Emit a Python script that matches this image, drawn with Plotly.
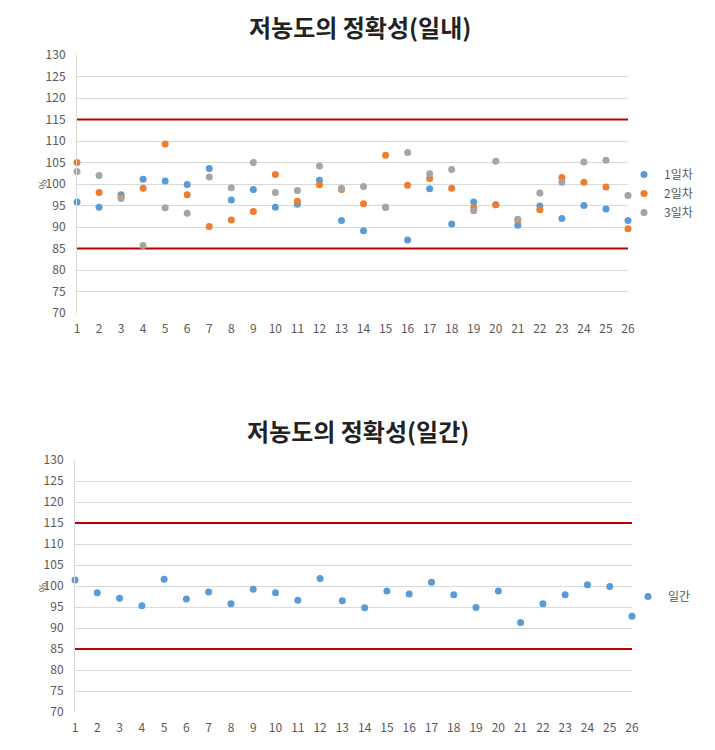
import plotly.graph_objects as go

samples = list(range(1, 27))
tick_labels = [str(i) for i in samples]

day1 = [95.8, 94.6, 97.5, 101.1, 100.7, 99.9, 103.6, 96.3, 98.7, 94.6, 95.3, 100.9, 91.5,
        89.1, 94.6, 87.0, 98.9, 90.7, 95.8, 95.2, 90.4, 94.9, 92.0, 95.0, 94.2, 91.5]
day2 = [105.0, 98.0, 97.0, 99.0, 109.3, 97.5, 90.1, 91.6, 93.6, 102.2, 96.0, 99.8, 98.7,
        95.4, 106.7, 99.7, 101.3, 99.0, 94.4, 95.2, 91.5, 94.0, 101.5, 100.4, 99.3, 89.6]
day3 = [102.9, 102.0, 96.6, 85.7, 94.5, 93.2, 101.6, 99.1, 105.0, 98.0, 98.5, 104.2, 99.0,
        99.4, 94.6, 107.3, 102.4, 103.4, 93.8, 105.3, 91.8, 97.9, 100.4, 105.1, 105.5, 97.3]
interday = [101.4, 98.4, 97.1, 95.3, 101.6, 96.9, 98.6, 95.8, 99.2, 98.4, 96.6, 101.8, 96.5,
            94.8, 98.8, 98.1, 100.9, 97.9, 94.9, 98.8, 91.3, 95.8, 97.9, 100.3, 99.9, 92.8]

upper_limit = 115
lower_limit = 85
y_ticks = list(range(70, 131, 5))

title_top = "저농도의 정확성(일내)"
title_bottom = "저농도의 정확성(일간)"
y_title = "%"

FONT = "Noto Sans CJK KR"
RED = "#c00000"
GRID = "#d9d9d9"
TICKC = "#595959"

fig = go.Figure()

series = [("1일차", day1, "#5b9bd5"), ("2일차", day2, "#ed7d31"), ("3일차", day3, "#a5a5a5")]

# limit lines (top)
for lim in (upper_limit, lower_limit):
    fig.add_trace(go.Scatter(x=[samples[0], samples[-1]], y=[lim, lim], mode="lines",
                             line=dict(color=RED, width=2), showlegend=False,
                             hoverinfo="skip", xaxis="x", yaxis="y"))
for name, vals, col in series:
    fig.add_trace(go.Scatter(x=samples, y=vals, mode="markers", name=name,
                             marker=dict(color=col, size=7), cliponaxis=False,
                             xaxis="x", yaxis="y", legend="legend"))

# limit lines (bottom)
for lim in (upper_limit, lower_limit):
    fig.add_trace(go.Scatter(x=[samples[0], samples[-1]], y=[lim, lim], mode="lines",
                             line=dict(color=RED, width=2), showlegend=False,
                             hoverinfo="skip", xaxis="x2", yaxis="y2"))
fig.add_trace(go.Scatter(x=samples, y=interday, mode="markers", name="일간",
                         marker=dict(color="#5b9bd5", size=7), cliponaxis=False,
                         xaxis="x2", yaxis="y2", legend="legend2"))

W, H = 715, 750
OFF = 8  # page body margin

def px_x(a, b):
    return [(a - OFF) / W, (b - OFF) / W]

def px_y(top, bottom):
    return [1 - (bottom - OFF) / H, 1 - (top - OFF) / H]

def fx(a):
    return (a - OFF) / W

def fy(a):
    return 1 - (a - OFF) / H

xcommon = dict(range=[1, 26], tickmode="array", tickvals=samples, ticktext=tick_labels,
               showgrid=False, zeroline=False, showline=False, ticks="", automargin=False,
               ticklabelstandoff=7,
               tickfont=dict(family=FONT, size=12, color=TICKC), fixedrange=True)
ycommon = dict(range=[70, 130], tickmode="array", tickvals=y_ticks,
               showgrid=True, gridcolor=GRID, gridwidth=1, zeroline=False,
               showline=True, linecolor=GRID, linewidth=1, ticks="", automargin=False,
               ticklabelstandoff=8,
               tickfont=dict(family=FONT, size=12, color=TICKC), fixedrange=True)

fig.update_layout(
    width=W, height=H,
    margin=dict(l=0, r=0, t=0, b=0, autoexpand=False),
    paper_bgcolor="white", plot_bgcolor="white",
    font=dict(family=FONT, color=TICKC),
    xaxis=dict(domain=px_x(77, 628), anchor="y", **xcommon),
    yaxis=dict(domain=px_y(55, 313), anchor="x", **ycommon),
    xaxis2=dict(domain=px_x(75, 632), anchor="y2", **xcommon),
    yaxis2=dict(domain=px_y(460, 712), anchor="x2", **ycommon),
    legend=dict(x=fx(624), y=fy(160), xanchor="left", yanchor="top",
                font=dict(family=FONT, size=12, color=TICKC), itemwidth=30,
                tracegroupgap=0, bgcolor="rgba(0,0,0,0)"),
    legend2=dict(x=fx(628), y=fy(582), xanchor="left", yanchor="top",
                 font=dict(family=FONT, size=12, color=TICKC), itemwidth=30,
                 bgcolor="rgba(0,0,0,0)"),
    annotations=[
        dict(text=f"<b>{title_top}</b>", x=fx(360), y=fy(26), xref="paper", yref="paper",
             xanchor="center", yanchor="middle",
             showarrow=False, font=dict(family=FONT, size=24, color="#222222")),
        dict(text=f"<b>{title_bottom}</b>", x=fx(358), y=fy(430), xref="paper", yref="paper",
             xanchor="center", yanchor="middle",
             showarrow=False, font=dict(family=FONT, size=24, color="#222222")),
        dict(text=y_title, x=fx(42), y=fy(185), xref="paper", yref="paper",
             xanchor="center", yanchor="middle",
             showarrow=False, textangle=-90, font=dict(family=FONT, size=10, color=TICKC)),
        dict(text=y_title, x=fx(42), y=fy(588), xref="paper", yref="paper",
             xanchor="center", yanchor="middle",
             showarrow=False, textangle=-90, font=dict(family=FONT, size=10, color=TICKC)),
    ],
)

fig.write_html("out.html")
